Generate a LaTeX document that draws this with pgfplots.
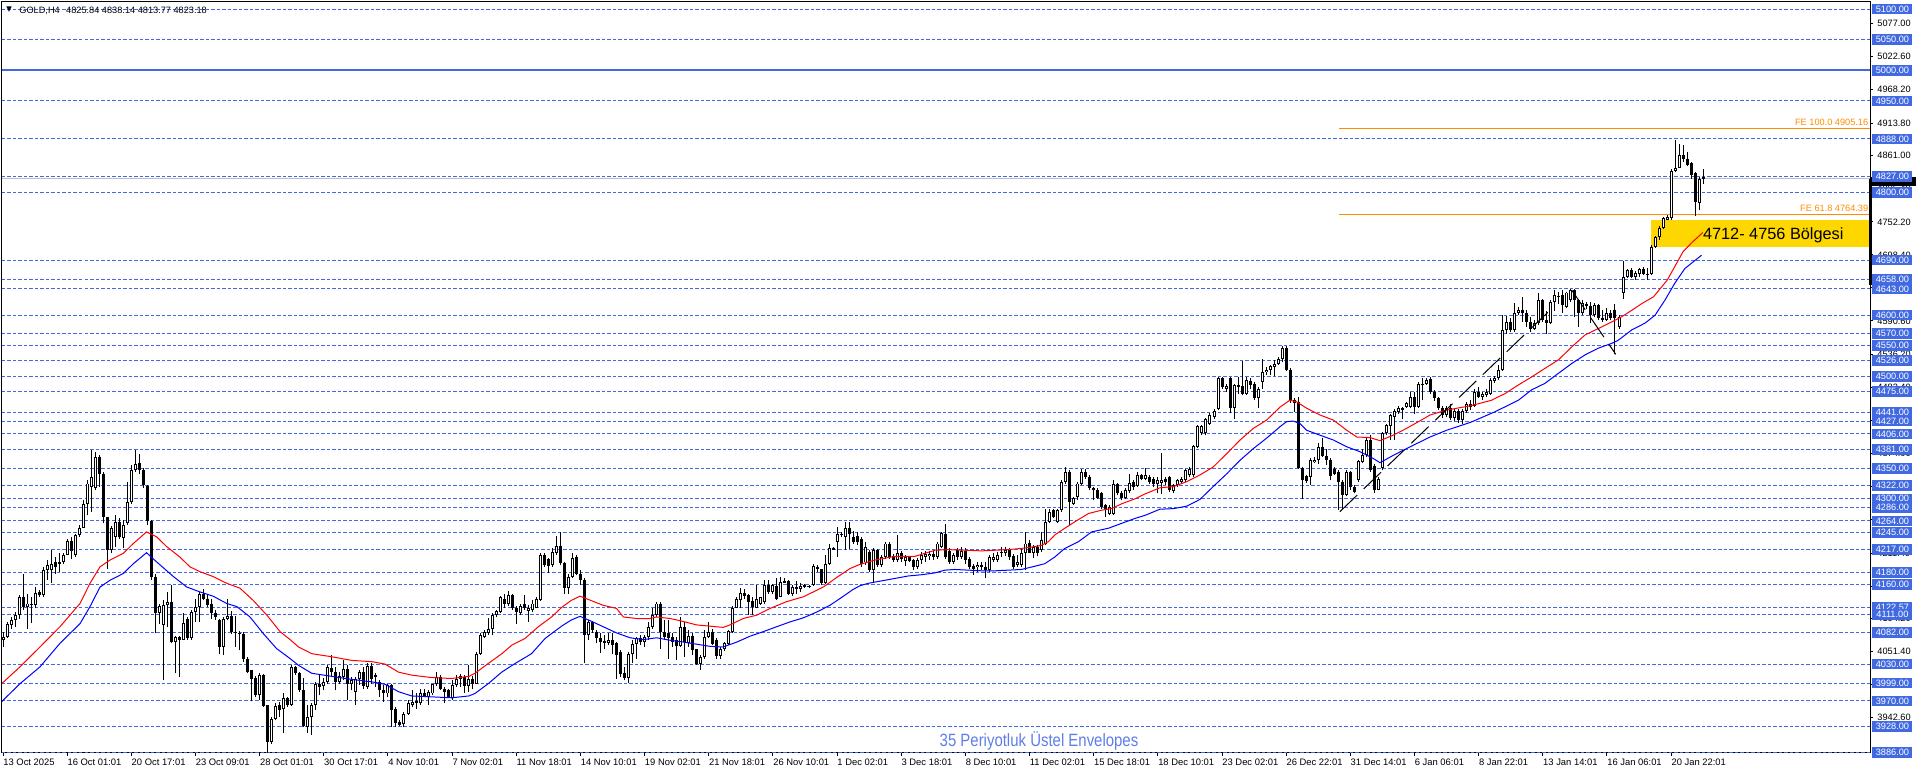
\documentclass[border=0pt]{standalone}
\usepackage{fontspec}
\setmainfont{Liberation Sans}
\newfontfamily\narrowfont[FakeStretch=0.84]{Liberation Sans}
\newfontfamily\symfont{DejaVu Sans}
\usepackage{pgfplots}
\usepackage{pgfplotstable}
\pgfplotsset{compat=1.18}

\definecolor{lvl}{RGB}{65,105,225}
\definecolor{fe}{RGB}{255,140,0}
\definecolor{zone}{RGB}{255,215,0}
\definecolor{envtxt}{RGB}{95,125,232}
\definecolor{bid}{RGB}{192,192,192}
\newcommand\lab{\fontsize{4.6}{5}\selectfont}

% GOLD H4 bars: index, open, high, low, close
\pgfplotstableread{
i o h l c
0 4069 4083 4058 4075
1 4075 4099 4072 4096
2 4094 4107 4088 4102
3 4102 4115 4091 4110
4 4110 4143 4104 4140
5 4140 4178 4118 4124
6 4124 4145 4088 4129
7 4129 4140 4097 4126
8 4126 4156 4121 4146
9 4148 4151 4140 4143
10 4143 4188 4140 4183
11 4183 4200 4167 4192
12 4183 4217 4162 4194
13 4197 4205 4178 4189
14 4194 4212 4181 4197
15 4197 4211 4194 4208
16 4209 4234 4208 4231
17 4231 4238 4201 4215
18 4209 4243 4205 4241
19 4241 4257 4238 4253
20 4253 4298 4253 4292
21 4292 4331 4273 4325
22 4320 4380 4279 4335
23 4317 4377 4315 4369
24 4369 4371 4320 4341
25 4341 4344 4260 4271
26 4270 4271 4186 4216
27 4217 4255 4211 4252
28 4238 4273 4222 4262
29 4262 4268 4235 4237
30 4236 4265 4220 4258
31 4260 4328 4257 4295
32 4295 4355 4292 4347
33 4347 4380 4344 4357
34 4358 4374 4341 4347
35 4347 4350 4317 4322
36 4321 4322 4257 4264
37 4264 4265 4167 4173
38 4173 4178 4080 4114
39 4114 4129 4096 4125
40 4094 4134 4004 4126
41 4126 4148 4090 4131
42 4131 4159 4064 4066
43 4066 4076 4015 4075
44 4075 4076 4009 4070
45 4070 4113 4069 4097
46 4104 4107 4069 4072
47 4072 4118 4069 4115
48 4115 4137 4099 4124
49 4124 4148 4099 4144
50 4144 4153 4134 4137
51 4137 4143 4124 4126
52 4129 4137 4104 4114
53 4114 4118 4102 4107
54 4102 4104 4047 4058
55 4058 4107 4045 4104
56 4104 4137 4102 4108
57 4108 4117 4079 4082
58 4082 4108 4058 4080
59 4081 4084 4053 4079
60 4079 4083 4034 4039
61 4039 4042 4015 4017
62 4020 4021 3969 4006
63 4008 4010 3976 3979
64 3979 4015 3971 4012
65 4012 4014 3960 3962
66 3963 3964 3885 3903
67 3903 3944 3900 3941
68 3941 3967 3938 3962
69 3963 3968 3944 3955
70 3956 3982 3917 3975
71 3975 3976 3960 3963
72 3963 4028 3962 4026
73 4025 4027 4012 4015
74 4015 4017 3985 3987
75 3988 4007 3928 3929
76 3928 3963 3917 3944
77 3943 3966 3914 3963
78 3963 4001 3955 3998
79 3998 4014 3979 3993
80 3994 4007 3987 4001
81 4001 4028 3998 4026
82 4023 4045 4009 4017
83 4017 4026 3987 4001
84 4001 4017 3998 4011
85 4009 4036 4004 4022
86 4022 4028 3971 3998
87 3997 4009 3987 4004
88 3985 4009 3963 4006
89 4005 4021 3996 4017
90 4017 4025 3990 3995
91 3993 4031 3990 4027
92 4027 4031 3998 4006
93 4012 4015 3993 4009
94 4001 4004 3977 3987
95 3987 3996 3968 3982
96 3982 3998 3977 3996
97 3996 3998 3928 3955
98 3957 3960 3928 3933
99 3936 3938 3929 3930
100 3932 3952 3927 3949
101 3948 3971 3947 3967
102 3963 3987 3960 3968
103 3967 3982 3957 3969
104 3966 3990 3963 3982
105 3983 3990 3977 3978
106 3977 3987 3963 3984
107 3982 3998 3979 3997
108 3997 4017 3994 4009
109 4009 4012 3987 3990
110 3990 3993 3966 3985
111 3987 3990 3974 3976
112 3974 4004 3971 3996
113 3996 4012 3993 4006
114 4006 4014 3993 4010
115 4009 4012 3983 3994
116 3994 4028 3985 4005
117 4005 4010 3990 3998
118 3998 4050 3997 4047
119 4047 4080 4045 4077
120 4075 4085 4072 4083
121 4081 4105 4077 4087
122 4087 4113 4077 4110
123 4110 4118 4107 4117
124 4115 4141 4113 4139
125 4137 4145 4122 4129
126 4129 4150 4125 4143
127 4143 4145 4118 4121
128 4121 4125 4096 4115
129 4113 4129 4110 4125
130 4129 4143 4118 4121
131 4117 4126 4099 4122
132 4118 4135 4115 4129
133 4122 4139 4121 4136
134 4135 4211 4133 4208
135 4208 4211 4189 4192
136 4202 4204 4179 4190
137 4192 4219 4189 4213
138 4211 4239 4208 4223
139 4223 4245 4192 4195
140 4195 4197 4145 4154
141 4154 4178 4144 4172
142 4172 4211 4170 4204
143 4205 4208 4175 4178
144 4178 4184 4159 4167
145 4168 4170 4031 4077
146 4077 4102 4069 4099
147 4099 4101 4080 4085
148 4083 4085 4064 4072
149 4072 4080 4048 4066
150 4068 4077 4054 4065
151 4065 4080 4061 4069
152 4069 4081 4047 4061
153 4064 4066 4006 4045
154 4050 4053 4009 4014
155 4016 4025 4004 4007
156 4008 4050 3999 4046
157 4046 4069 4031 4063
158 4063 4075 4039 4073
159 4073 4077 4061 4066
160 4066 4077 4058 4074
161 4074 4099 4069 4091
162 4091 4122 4088 4110
163 4110 4132 4107 4129
164 4129 4132 4055 4083
165 4083 4102 4069 4075
166 4080 4102 4039 4072
167 4075 4080 4058 4066
168 4069 4075 4036 4059
169 4059 4107 4058 4090
170 4090 4099 4042 4066
171 4065 4085 4058 4076
172 4076 4080 4045 4053
173 4054 4055 4028 4030
174 4030 4045 4020 4041
175 4041 4085 4039 4074
176 4074 4099 4072 4083
177 4083 4087 4061 4063
178 4069 4072 4039 4043
179 4043 4058 4039 4054
180 4054 4066 4052 4064
181 4063 4085 4061 4084
182 4083 4125 4080 4122
183 4122 4139 4121 4136
184 4134 4155 4121 4146
185 4146 4152 4137 4141
186 4143 4144 4110 4132
187 4133 4140 4110 4124
188 4122 4159 4121 4137
189 4129 4140 4126 4139
190 4132 4168 4129 4160
191 4160 4168 4145 4148
192 4148 4161 4145 4159
193 4157 4171 4134 4137
194 4140 4173 4139 4164
195 4166 4171 4162 4163
196 4166 4168 4143 4144
197 4144 4159 4141 4156
198 4156 4166 4145 4153
199 4153 4162 4148 4157
200 4159 4161 4155 4156
201 4158 4159 4155 4157
202 4159 4194 4158 4190
203 4189 4192 4181 4185
204 4185 4186 4159 4162
205 4162 4208 4161 4194
206 4194 4227 4192 4220
207 4220 4222 4216 4217
208 4230 4254 4205 4242
209 4242 4246 4237 4243
210 4238 4262 4216 4253
211 4253 4262 4218 4243
212 4238 4248 4227 4230
213 4239 4246 4225 4229
214 4234 4238 4188 4194
215 4196 4229 4192 4222
216 4213 4216 4181 4183
217 4183 4219 4164 4216
218 4216 4218 4189 4192
219 4192 4208 4189 4205
220 4205 4230 4202 4227
221 4227 4230 4202 4205
222 4206 4210 4197 4200
223 4200 4241 4197 4211
224 4211 4215 4196 4201
225 4199 4209 4190 4205
226 4205 4207 4196 4199
227 4200 4202 4183 4188
228 4188 4203 4185 4200
229 4200 4213 4194 4208
230 4205 4215 4196 4210
231 4206 4214 4200 4210
232 4210 4214 4200 4205
233 4205 4230 4202 4227
234 4222 4246 4219 4244
235 4243 4259 4202 4205
236 4215 4219 4194 4197
237 4197 4211 4194 4208
238 4216 4219 4200 4205
239 4205 4221 4202 4215
240 4215 4219 4194 4200
241 4202 4205 4186 4189
242 4191 4194 4175 4186
243 4188 4196 4180 4192
244 4192 4197 4183 4188
245 4189 4197 4170 4183
246 4183 4208 4181 4205
247 4200 4211 4197 4205
248 4200 4213 4196 4208
249 4213 4221 4205 4211
250 4211 4221 4207 4217
251 4216 4219 4200 4205
252 4206 4210 4186 4188
253 4192 4209 4189 4197
254 4192 4219 4189 4211
255 4211 4246 4183 4227
256 4228 4232 4211 4212
257 4212 4224 4204 4222
258 4222 4224 4206 4212
259 4216 4246 4213 4232
260 4227 4284 4224 4262
261 4262 4284 4260 4279
262 4281 4284 4268 4271
263 4262 4283 4260 4281
264 4281 4331 4279 4328
265 4328 4352 4325 4344
266 4344 4347 4257 4295
267 4292 4303 4290 4301
268 4303 4328 4298 4325
269 4325 4348 4322 4344
270 4344 4348 4333 4336
271 4336 4339 4314 4317
272 4318 4320 4298 4314
273 4314 4317 4300 4302
274 4309 4311 4284 4287
275 4290 4292 4271 4284
276 4276 4290 4273 4287
277 4276 4330 4273 4324
278 4324 4326 4306 4310
279 4310 4313 4298 4301
280 4301 4317 4299 4314
281 4312 4341 4309 4326
282 4328 4330 4314 4320
283 4321 4344 4319 4339
284 4339 4341 4330 4333
285 4333 4350 4330 4339
286 4336 4339 4325 4328
287 4333 4336 4320 4325
288 4325 4336 4309 4330
289 4326 4375 4308 4330
290 4333 4336 4322 4328
291 4335 4338 4311 4314
292 4313 4325 4309 4322
293 4322 4333 4319 4330
294 4328 4336 4325 4333
295 4330 4349 4327 4347
296 4339 4352 4336 4348
297 4339 4388 4336 4386
298 4385 4421 4383 4419
299 4407 4421 4404 4419
300 4407 4432 4404 4430
301 4422 4441 4420 4437
302 4434 4447 4431 4444
303 4447 4499 4445 4497
304 4497 4499 4480 4483
305 4479 4488 4475 4484
306 4497 4499 4440 4449
307 4449 4488 4430 4486
308 4486 4499 4472 4483
309 4485 4525 4469 4471
310 4472 4499 4469 4494
311 4493 4497 4480 4486
312 4487 4491 4461 4464
313 4464 4483 4448 4480
314 4491 4529 4480 4507
315 4507 4516 4502 4511
316 4511 4518 4502 4517
317 4516 4527 4500 4521
318 4521 4532 4518 4528
319 4528 4550 4524 4546
320 4547 4550 4508 4510
321 4511 4513 4456 4459
322 4462 4464 4442 4456
323 4458 4467 4349 4350
324 4351 4352 4300 4330
325 4337 4339 4326 4329
326 4336 4366 4322 4363
327 4360 4369 4358 4364
328 4363 4392 4357 4385
329 4385 4399 4368 4370
330 4370 4382 4355 4363
331 4363 4366 4330 4337
332 4348 4352 4339 4341
333 4344 4347 4281 4328
334 4328 4330 4284 4306
335 4306 4347 4304 4344
336 4344 4346 4314 4320
337 4320 4322 4309 4311
338 4330 4364 4328 4362
339 4360 4381 4358 4371
340 4371 4399 4369 4396
341 4396 4404 4344 4347
342 4353 4357 4309 4315
343 4315 4336 4314 4333
344 4350 4409 4347 4407
345 4407 4423 4404 4420
346 4419 4439 4396 4437
347 4434 4446 4396 4444
348 4442 4451 4439 4449
349 4449 4450 4431 4445
350 4450 4458 4448 4456
351 4450 4475 4448 4466
352 4466 4475 4439 4450
353 4450 4491 4448 4488
354 4488 4497 4461 4486
355 4487 4497 4486 4494
356 4495 4499 4472 4475
357 4475 4478 4460 4464
358 4464 4467 4445 4448
359 4448 4452 4432 4437
360 4437 4452 4433 4449
361 4449 4455 4428 4432
362 4432 4448 4427 4444
363 4444 4446 4424 4428
364 4428 4447 4422 4443
365 4443 4458 4440 4455
366 4455 4462 4445 4450
367 4452 4480 4450 4475
368 4475 4483 4465 4467
369 4467 4475 4462 4472
370 4470 4480 4466 4475
371 4472 4497 4470 4494
372 4493 4500 4490 4497
373 4497 4518 4494 4510
374 4510 4600 4508 4576
375 4576 4598 4570 4589
376 4589 4596 4573 4576
377 4576 4620 4573 4604
378 4604 4614 4600 4609
379 4609 4630 4589 4603
380 4603 4608 4581 4589
381 4589 4597 4573 4578
382 4578 4592 4576 4587
383 4587 4636 4584 4625
384 4625 4627 4589 4592
385 4592 4606 4570 4587
386 4587 4625 4585 4622
387 4622 4641 4606 4633
388 4630 4638 4619 4632
389 4633 4641 4604 4616
390 4614 4638 4611 4637
391 4625 4643 4622 4641
392 4641 4642 4597 4625
393 4625 4627 4581 4603
394 4603 4624 4600 4620
395 4619 4622 4610 4615
396 4615 4622 4587 4600
397 4600 4620 4597 4616
398 4616 4619 4592 4595
399 4596 4608 4589 4592
400 4592 4611 4590 4603
401 4603 4608 4592 4595
402 4609 4619 4536 4595
403 4581 4600 4578 4597
404 4636 4689 4627 4663
405 4663 4676 4660 4674
406 4674 4677 4660 4662
407 4662 4672 4658 4669
408 4667 4677 4663 4675
409 4675 4678 4665 4668
410 4668 4677 4658 4666
411 4668 4715 4665 4712
412 4712 4729 4709 4727
413 4727 4745 4723 4742
414 4742 4761 4740 4758
415 4756 4764 4755 4760
416 4758 4838 4755 4836
417 4836 4886 4834 4841
418 4841 4880 4840 4862
419 4862 4878 4851 4855
420 4855 4867 4843 4845
421 4848 4851 4823 4829
422 4832 4834 4762 4785
423 4784 4826 4772 4823
424 4825.84 4838.14 4813.77 4823.18
}\candles

\begin{document}
\begin{tikzpicture}
\useasboundingbox (0,0) rectangle (958pt,387pt);
\begin{axis}[
    at={(1pt,10.5pt)}, anchor=south west,
    scale only axis, width=934pt, height=375.5pt,
    xmin=-0.25, xmax=465.6, ymin=3884.8, ymax=5111.6,
    clip mode=individual,
    axis line style={line width=0.5pt},
    tick align=outside, major tick length=1.5pt,
    tick style={black, line width=0.5pt},
    xtick pos=left, ytick pos=right,
    xtick={0,16,...,416},
    xticklabels={13 Oct 2025,16 Oct 01:01,20 Oct 17:01,23 Oct 09:01,28 Oct 01:01,30 Oct 17:01,4 Nov 10:01,7 Nov 02:01,11 Nov 18:01,14 Nov 10:01,19 Nov 02:01,21 Nov 18:01,26 Nov 10:01,1 Dec 02:01,3 Dec 18:01,8 Dec 10:01,11 Dec 02:01,15 Dec 18:01,18 Dec 10:01,23 Dec 02:01,26 Dec 22:01,31 Dec 14:01,6 Jan 06:01,8 Jan 22:01,13 Jan 14:01,16 Jan 06:01,20 Jan 22:01},
    xticklabel style={font=\fontsize{4.7}{5}\selectfont, anchor=north west, inner sep=0pt, yshift=-1.5pt},
    ytick={5077,5022.6,4968.2,4913.8,4861,4806.4,4752.2,4698.4,4644.6,4590.6,4536.2,4482.4,4428.2,4374,4319.8,4265.6,4211.4,4157.2,4104.2,4051.4,3997.2,3942.6},
    yticklabel={\relax},
]
% horizontal levels
\pgfplotsinvokeforeach{5100,5050,4950,4888,4827,4800,4690,4658,4643,4600,4570,4550,4526,4500,4475,4441,4427,4406,4381,4350,4322,4300,4286,4264,4245,4217,4180,4160,4122.57,4111,4082,4030,3999,3970,3928,3886}{
  \addplot[lvl, line width=0.5pt, dash pattern=on 1.75pt off 1pt] coordinates {(-0.25,#1) (465.6,#1)};
}
\addplot[lvl, line width=1pt] coordinates {(-0.25,5000) (465.6,5000)};
\addplot[bid, line width=0.5pt] coordinates {(-0.25,4823.18) (465.6,4823.18)};
% Fibonacci expansion levels
\addplot[fe, line width=0.5pt] coordinates {(333.2,4905.16) (465.6,4905.16)};
\addplot[fe, line width=0.5pt] coordinates {(333.2,4764.39) (465.6,4764.39)};
% zone
\addplot[fill=zone, draw=none] coordinates {(411,4712) (465.6,4712) (465.6,4756) (411,4756)} -- cycle;
% candles
\addplot[black, line width=0.5pt, quiver={u=0, v=\thisrow{h}-\thisrow{l}}] table[x=i, y=l] {\candles};
\addplot[black, line width=1.5pt, quiver={u=0, v=\thisrow{c}-\thisrow{o}}] table[x=i, y=o] {\candles};
\addplot[white, line width=0.5pt, quiver={u=0, v={max(\thisrow{c}-\thisrow{o}-3.2,0)}}] table[x=i, y expr=\thisrow{o}+1.6] {\candles};
% envelopes
\addplot[red, line width=0.5pt] coordinates {(-0.75,3995.5) (4.24,4025.5) (9.23,4058) (14.21,4091) (19.2,4129) (21.7,4162) (24.2,4189) (26.7,4200) (30,4211) (32.5,4227) (35.8,4246) (38.3,4238) (40.8,4222) (44.1,4205) (46.6,4189) (49.1,4181) (52.4,4173) (55.8,4162) (59.1,4154) (62.4,4134) (65.8,4110) (69.1,4083) (71.6,4070) (73.7,4058) (77,4047) (82,4042) (87,4036) (92,4034) (95.3,4030) (98.6,4017) (101.9,4012) (106.9,4008) (111.9,4006.5) (116.2,4010) (117.7,4015) (121,4031) (124.4,4047) (126.9,4061) (130.2,4072) (133.5,4091) (136.8,4107) (139.3,4122.5) (141.7,4134) (143.9,4141) (146.4,4134.5) (149.7,4126) (153,4121) (154.7,4107) (158,4104.5) (161.3,4104.5) (163,4107) (166.3,4104.5) (168.8,4101) (173,4094) (176.3,4092) (179.6,4090) (181.3,4094) (184.6,4104.5) (188,4110) (191.3,4121) (195.4,4132) (199.6,4140) (204.6,4156) (207.9,4171.5) (211.2,4186) (213.7,4193) (217.5,4200) (222.4,4206) (227.4,4206) (232.4,4216) (235.7,4217) (239.9,4216) (244.1,4215) (247.4,4216) (250.7,4217) (254,4219) (257.4,4222) (259,4224) (260.7,4230) (262.3,4241) (264.8,4252) (267.3,4262.5) (270.7,4276) (274,4281.5) (276.5,4284) (279,4292) (282.3,4300) (284.8,4308) (288.5,4318) (291.9,4320) (295.2,4328) (298.5,4339) (301.8,4352) (305.2,4374) (308.5,4396) (311.8,4415) (315.1,4428.5) (318.5,4450) (320.9,4461) (322.6,4458.5) (325.1,4448) (328.4,4437) (331.8,4428.5) (335.1,4412) (337.6,4401) (340.9,4400) (343.4,4395) (346.7,4404) (350,4415) (353.4,4427.5) (355.9,4437) (360,4445) (366,4452) (371.2,4461) (374.6,4472) (377.9,4486) (381.2,4499) (384.5,4513) (387.9,4527) (391.2,4548) (394.5,4567.5) (397.8,4578) (401.2,4589) (403.7,4597.5) (406.2,4608) (408.7,4619) (411.6,4630) (415,4657) (419,4704) (421.4,4720) (423.9,4735)};
\addplot[blue, line width=0.5pt] coordinates {(-0.75,3966) (4.24,3998) (9.23,4025.5) (14.21,4064) (19.2,4096) (21.7,4124) (24.2,4156) (26.7,4167) (30,4178) (32.5,4194) (35.8,4212) (38.3,4197) (42.5,4173) (45.8,4156) (49.1,4148) (52.4,4141) (55.8,4129) (58.3,4124) (61.6,4107) (64.9,4080) (68.2,4055.5) (71.6,4039) (73.7,4028) (77,4015) (82,4010) (87,4005) (92,4001) (95.3,3997) (98.6,3985) (101.9,3978) (106.9,3976.5) (111.9,3975) (116.2,3978) (117.7,3982) (121,3998) (124.4,4017) (127.7,4031) (131.8,4047) (135.2,4072) (139.3,4092) (141.7,4102) (143.9,4108) (146.4,4101) (149.7,4091) (153,4081) (156.4,4073) (159.7,4070) (163,4073) (166.3,4069) (169.7,4066) (173,4062.5) (176.3,4059) (179.6,4058) (183,4066) (186.3,4075.6) (189.6,4083) (192.9,4091) (196.3,4099) (199.6,4105.6) (202.9,4115) (206.2,4126) (209.6,4141) (212,4152) (213.7,4158) (215.8,4162) (220.8,4168) (225.8,4174) (229.1,4176) (232.4,4179) (234.9,4183.5) (237.4,4184.6) (240.7,4183.5) (244.1,4182.4) (247.4,4182.4) (250.7,4183.5) (254,4184.6) (257.4,4190) (259.8,4194) (262.3,4205) (264.8,4219) (268.2,4230) (271.5,4246) (275.7,4252) (279,4260) (282.3,4268) (284.8,4273) (288.5,4283) (291.9,4284) (295.2,4288) (298.5,4299) (301.8,4320) (305.2,4341) (308.5,4363) (311.8,4382) (315.1,4399) (318.5,4418) (320.1,4426) (321.8,4427) (323.4,4423) (325.1,4412) (328.4,4404) (331.8,4396) (335.1,4385) (338.4,4377) (341.7,4366) (343.4,4359) (346.7,4371) (350,4382) (353.4,4393) (355.9,4401) (360,4412) (366,4425) (372,4442) (377.9,4461) (381.2,4478) (384.5,4488.5) (387.9,4505) (391.2,4521) (394.5,4535) (397.8,4546) (401.2,4554) (402.8,4559) (406.2,4576) (409.5,4587) (412,4600) (414.5,4625) (416.9,4652) (419.4,4676) (421.1,4685) (423.6,4698)};
% trend lines
\addplot[black, line width=0.5pt, dash pattern=on 12pt off 4.5pt] coordinates {(333.4,4279) (385.4,4605.6)};
\addplot[black, line width=0.5pt, dash pattern=on 12pt off 4.5pt] coordinates {(391.2,4641) (402.2,4536)};
% labels
\node[anchor=base east, inner sep=0pt, text=fe, font=\lab, xshift=-0.7pt, yshift=1.4pt] at (axis cs:465.6,4905.16) {FE 100.0 4905.16};
\node[anchor=base east, inner sep=0pt, text=fe, font=\lab, xshift=-0.7pt, yshift=1.4pt] at (axis cs:465.6,4764.39) {FE 61.8 4764.39};
\pgfplotsinvokeforeach{5077.00,5022.60,4968.20,4913.80,4861.00,4806.40,4752.20,4698.40,4644.60,4590.60,4536.20,4482.40,4428.20,4374.00,4319.80,4265.60,4211.40,4157.20,4104.20,4051.40,3997.20,3942.60}{
  \node[anchor=west, inner sep=0pt, font=\lab, xshift=3.5pt] at (axis cs:465.6,#1) {#1};
}
\fill[black] (axis cs:465.6,4825) rectangle ([xshift=23pt]axis cs:465.6,4811);
\draw[black, line width=1.5pt] (axis cs:465.6,4823) -- (axis cs:465.6,4650);
\pgfplotsinvokeforeach{5100.00,5050.00,5000.00,4950.00,4888.00,4827.00,4800.00,4690.00,4658.00,4643.00,4600.00,4570.00,4550.00,4526.00,4500.00,4475.00,4441.00,4427.00,4406.00,4381.00,4350.00,4322.00,4300.00,4286.00,4264.00,4245.00,4217.00,4180.00,4160.00,4122.57,4111.00,4082.00,4030.00,3999.00,3970.00,3928.00,3886.00}{
  \node[anchor=west, inner sep=0pt, fill=lvl, text=white, font=\lab, minimum width=20pt, minimum height=5.3pt, xshift=1pt] at (axis cs:465.6,#1) {#1};
}
\end{axis}
% texts
\node[inner sep=0pt, font=\symfont\fontsize{3.6}{4}\selectfont] at (4.6pt,382pt) {▼};
\node[anchor=base west, inner sep=0pt, font=\lab] at (9.5pt,380.3pt) {GOLD,H4\hspace{3.2pt}4825.84 4838.14 4813.77 4823.18};
\node[anchor=base west, inner sep=0pt, font=\fontsize{8.15}{9}\selectfont] at (851.3pt,267pt) {4712- 4756 Bölgesi};
\node[anchor=base, inner sep=0pt, text=envtxt, font=\narrowfont\fontsize{8.9}{10}\selectfont] at (519.5pt,13.65pt) {35 Periyotluk Üstel Envelopes};
\end{tikzpicture}
\end{document}
